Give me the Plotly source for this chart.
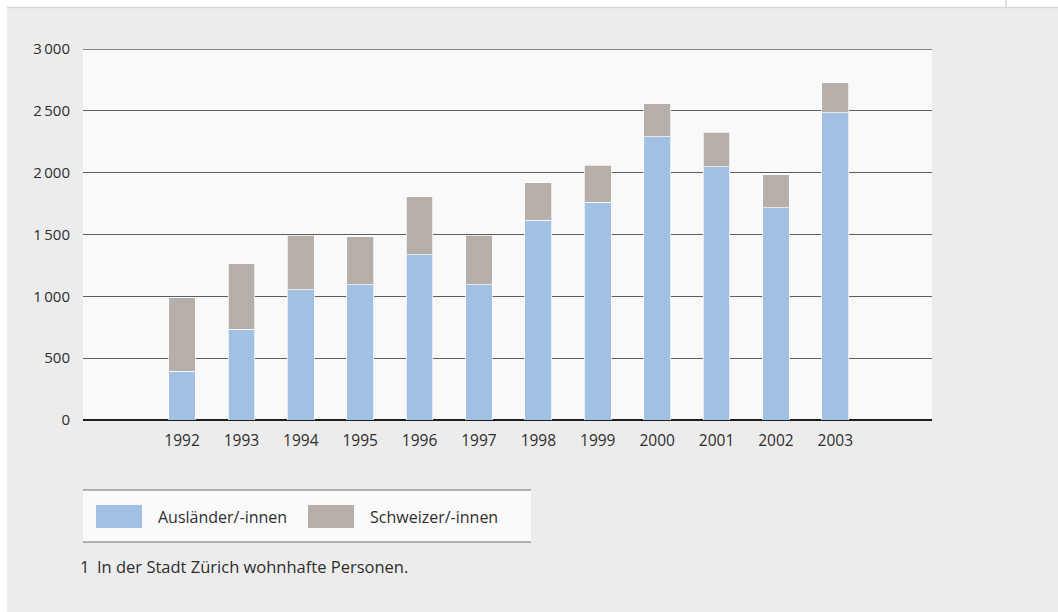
import plotly.graph_objects as go

# Data
years = ["1992", "1993", "1994", "1995", "1996", "1997",
         "1998", "1999", "2000", "2001", "2002", "2003"]
auslaender = [395, 735, 1053, 1094, 1337, 1094, 1615, 1761, 2291, 2048, 1715, 2485]
total = [988, 1262, 1494, 1483, 1805, 1494, 1918, 2061, 2558, 2326, 1985, 2728]
schweizer = [t - a for t, a in zip(total, auslaender)]
y_ticks = [0, 500, 1000, 1500, 2000, 2500, 3000]
y_tick_labels = ["0", "500", "1\u2009000", "1\u2009500", "2\u2009000", "2\u2009500", "3\u2009000"]
series_names = ["Ausländer/-innen", "Schweizer/-innen"]
footnote_num = "1"
footnote = "In der Stadt Zürich wohnhafte Personen."

BLUE = "#a1c1e4"
GREY = "#b6aea9"
TEXT = "#2e2e2e"
GRID = "#5e5e5e"
FONT = "Open Sans, DejaVu Sans, sans-serif"

W, H = 1058, 612
L, R, T, B = 83, 932, 49, 420   # plot area in pixels

def px(x):
    return (x - L) / (R - L)

def py(y):
    return (B - y) / (B - T)

xpos = list(range(len(years)))

fig = go.Figure()
fig.add_trace(go.Bar(
    x=xpos, y=auslaender, name=series_names[0], width=0.45,
    marker=dict(color=BLUE, line=dict(color="rgba(255,255,255,0.7)", width=1)),
))
fig.add_trace(go.Bar(
    x=xpos, y=schweizer, name=series_names[1], width=0.45,
    marker=dict(color=GREY, line=dict(color="rgba(255,255,255,0.7)", width=1)),
))

shapes = [
    # grey page panel
    dict(type="rect", xref="paper", yref="paper", x0=px(7), x1=px(W + 5), y0=py(8), y1=py(H + 5),
         fillcolor="#ececec", line=dict(width=0), layer="below"),
    # light plotting area
    dict(type="rect", xref="paper", yref="paper", x0=0, x1=1, y0=0, y1=1,
         fillcolor="#f9f9f9", line=dict(width=0), layer="below"),
    # top gridline at the upper end of the value range
    dict(type="line", xref="paper", yref="y", x0=0, x1=1, y0=y_ticks[-1], y1=y_ticks[-1],
         line=dict(color=GRID, width=1.4)),
    dict(type="line", xref="paper", yref="paper", x0=px(7), x1=px(W), y0=py(7.5), y1=py(7.5),
         line=dict(color="#d6d6d6", width=1.5)),
    dict(type="line", xref="paper", yref="paper", x0=px(1006), x1=px(1006), y0=py(0), y1=py(7),
         line=dict(color="#d6d6d6", width=1.5)),
    # legend box
    dict(type="rect", xref="paper", yref="paper", x0=px(83), x1=px(531), y0=py(490), y1=py(542),
         fillcolor="#fafafa", line=dict(width=0)),
    dict(type="line", xref="paper", yref="paper", x0=px(83), x1=px(531), y0=py(490), y1=py(490),
         line=dict(color="#6a6a6a", width=1.2)),
    dict(type="line", xref="paper", yref="paper", x0=px(83), x1=px(531), y0=py(542), y1=py(542),
         line=dict(color="#6a6a6a", width=1.2)),
    dict(type="rect", xref="paper", yref="paper", x0=px(96), x1=px(142), y0=py(505), y1=py(528),
         fillcolor=BLUE, line=dict(width=0)),
    dict(type="rect", xref="paper", yref="paper", x0=px(308), x1=px(354), y0=py(505), y1=py(528),
         fillcolor=GREY, line=dict(width=0)),
]

annotations = [
    dict(xref="paper", yref="paper", x=px(156), y=py(517), text=series_names[0],
         showarrow=False, xanchor="left", yanchor="middle",
         font=dict(family=FONT, size=16, color=TEXT)),
    dict(xref="paper", yref="paper", x=px(368), y=py(517), text=series_names[1],
         showarrow=False, xanchor="left", yanchor="middle",
         font=dict(family=FONT, size=16, color=TEXT)),
    dict(xref="paper", yref="paper", x=px(78), y=py(566), text=footnote_num,
         showarrow=False, xanchor="left", yanchor="middle",
         font=dict(family=FONT, size=16.5, color=TEXT)),
    dict(xref="paper", yref="paper", x=px(95), y=py(566), text=footnote,
         showarrow=False, xanchor="left", yanchor="middle",
         font=dict(family=FONT, size=16.5, color=TEXT)),
]

fig.update_layout(
    width=W, height=H,
    margin=dict(l=L, r=W - R, t=T, b=H - B, pad=0),
    barmode="stack",
    showlegend=False,
    paper_bgcolor="white",
    plot_bgcolor="#f9f9f9",
    font=dict(family=FONT, size=15, color=TEXT),
    shapes=shapes,
    annotations=annotations,
    xaxis=dict(
        range=[-1.667, 12.628], tickmode="array", tickvals=xpos, ticktext=years,
        showgrid=False, zeroline=False, showline=False, ticks="",
        tickfont=dict(family=FONT, size=15.5, color=TEXT), ticklabelstandoff=9,
    ),
    yaxis=dict(
        range=[0, 3000], tickmode="array", tickvals=y_ticks, ticktext=y_tick_labels,
        showgrid=True, gridcolor=GRID, gridwidth=1.4,
        zeroline=True, zerolinecolor="#1e1e1e", zerolinewidth=1.6,
        showline=False, ticks="",
        tickfont=dict(family=FONT, size=15, color=TEXT), ticklabelstandoff=12,
    ),
)

fig.write_html("out.html")
